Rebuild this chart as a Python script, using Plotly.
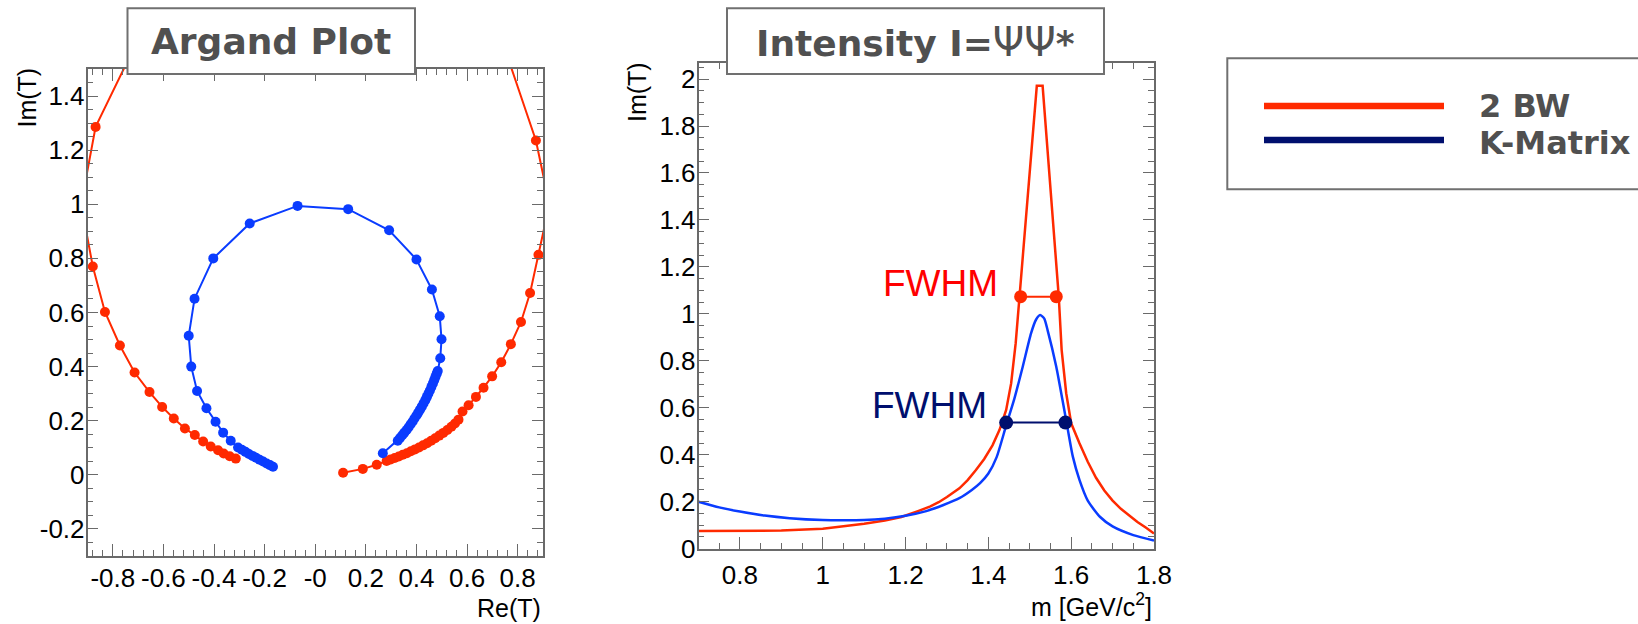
import plotly.graph_objects as go

# ---------------- data ----------------
# Argand plot: 2 BW (red)
bw_re = [0.110, 0.188, 0.243, 0.282, 0.298, 0.314, 0.330, 0.346, 0.362, 0.378, 0.394, 0.410,
         0.426, 0.442, 0.458, 0.474, 0.490, 0.506, 0.522, 0.538, 0.552, 0.566, 0.582, 0.606,
         0.635, 0.665, 0.699, 0.735, 0.773, 0.813, 0.849, 0.882, 0.925, 0.872, 0.740, 0.400,
         0.000, -0.400, -0.705, -0.868, -0.925, -0.879, -0.831, -0.772, -0.714, -0.655, -0.605,
         -0.559, -0.515, -0.476, -0.443, -0.413, -0.384, -0.362, -0.338, -0.314]
bw_im = [0.008, 0.022, 0.037, 0.051, 0.057, 0.062, 0.068, 0.074, 0.080, 0.087, 0.094, 0.101,
         0.109, 0.117, 0.126, 0.135, 0.145, 0.155, 0.166, 0.178, 0.190, 0.204, 0.234, 0.257,
         0.288, 0.322, 0.364, 0.416, 0.483, 0.565, 0.672, 0.813, 1.000, 1.236, 1.600, 1.850,
         1.900, 1.850, 1.600, 1.286, 1.000, 0.770, 0.602, 0.478, 0.378, 0.306, 0.251,
         0.208, 0.171, 0.147, 0.123, 0.105, 0.091, 0.079, 0.069, 0.060]
# Argand plot: K-Matrix (blue)
km_re = [0.267, 0.326, 0.335, 0.344, 0.352, 0.361, 0.369, 0.377, 0.385, 0.392, 0.400, 0.407,
         0.414, 0.421, 0.428, 0.435, 0.441, 0.447, 0.453, 0.459, 0.465, 0.470, 0.475, 0.480,
         0.484, 0.494, 0.499, 0.492, 0.461, 0.400, 0.292, 0.130, -0.070, -0.259, -0.403,
         -0.477, -0.500, -0.490, -0.467, -0.430, -0.394, -0.364, -0.334, -0.305, -0.290,
         -0.276, -0.262, -0.248, -0.234, -0.220, -0.206, -0.192, -0.179, -0.167]
km_im = [0.080, 0.126, 0.136, 0.146, 0.156, 0.166, 0.176, 0.187, 0.197, 0.208, 0.219, 0.230,
         0.241, 0.252, 0.264, 0.276, 0.288, 0.300, 0.312, 0.325, 0.338, 0.350, 0.362, 0.374,
         0.384, 0.431, 0.501, 0.586, 0.685, 0.796, 0.904, 0.982, 0.994, 0.929, 0.800,
         0.651, 0.514, 0.400, 0.310, 0.246, 0.196, 0.156, 0.126, 0.101, 0.093,
         0.085, 0.077, 0.070, 0.063, 0.056, 0.049, 0.042, 0.036, 0.030]

# Intensity plot
bw_m = [0.70, 0.80, 0.90, 1.00, 1.05, 1.10, 1.15, 1.19, 1.23, 1.26, 1.28, 1.30, 1.33, 1.35,
        1.37, 1.39, 1.41, 1.427, 1.443, 1.455, 1.466, 1.475, 1.517, 1.531, 1.570, 1.577,
        1.588, 1.600, 1.610, 1.620, 1.640, 1.660, 1.680, 1.700, 1.720, 1.740, 1.760, 1.780,
        1.800]
bw_I = [0.075, 0.075, 0.077, 0.085, 0.095, 0.106, 0.120, 0.135, 0.160, 0.180, 0.198, 0.220,
        0.257, 0.292, 0.335, 0.382, 0.440, 0.506, 0.591, 0.704, 0.875, 1.073, 1.971, 1.971,
        1.073, 0.846, 0.662, 0.534, 0.488, 0.449, 0.370, 0.302, 0.248, 0.205, 0.170, 0.140,
        0.114, 0.090, 0.065]
km_m = [0.70, 0.75, 0.80, 0.86, 0.92, 1.00, 1.05, 1.10, 1.15, 1.20, 1.25, 1.29, 1.33, 1.36,
        1.38, 1.40, 1.42, 1.443, 1.463, 1.483, 1.503, 1.515, 1.525, 1.535, 1.543, 1.564,
        1.579, 1.592, 1.604, 1.620, 1.640, 1.670, 1.700, 1.750, 1.800]
km_I = [0.200, 0.176, 0.158, 0.141, 0.130, 0.122, 0.121, 0.122, 0.128, 0.140, 0.160, 0.185,
        0.215, 0.250, 0.279, 0.320, 0.390, 0.525, 0.640, 0.775, 0.917, 0.975, 0.995, 0.980,
        0.931, 0.775, 0.633, 0.506, 0.392, 0.293, 0.205, 0.135, 0.095, 0.058, 0.035]

# FWHM markers
fwhm_bw_m = [1.478, 1.564]
fwhm_bw_I = [1.073, 1.073]
fwhm_km_m = [1.443, 1.586]
fwhm_km_I = [0.537, 0.537]

# tick labels
arg_xticks = [-0.8, -0.6, -0.4, -0.2, 0.0, 0.2, 0.4, 0.6, 0.8]
arg_xlabels = ["-0.8", "-0.6", "-0.4", "-0.2", "-0", "0.2", "0.4", "0.6", "0.8"]
arg_yticks = [-0.2, 0, 0.2, 0.4, 0.6, 0.8, 1.0, 1.2, 1.4]
arg_ylabels = ["-0.2", "0", "0.2", "0.4", "0.6", "0.8", "1", "1.2", "1.4"]
int_xticks = [0.8, 1.0, 1.2, 1.4, 1.6, 1.8]
int_xlabels = ["0.8", "1", "1.2", "1.4", "1.6", "1.8"]
int_yticks = [0, 0.2, 0.4, 0.6, 0.8, 1.0, 1.2, 1.4, 1.6, 1.8, 2.0]
int_ylabels = ["0", "0.2", "0.4", "0.6", "0.8", "1", "1.2", "1.4", "1.6", "1.8", "2"]

series_names = ["2 BW", "K-Matrix"]

# ---------------- style ----------------
W, H = 1638, 624
RED = "#ff2a00"
BLUE = "#0a3cff"
NAVY = "#000f6e"
FRAME = "#6a6a6a"
TXT = "#505050"
TICKFONT = dict(family="Liberation Sans, Arial", size=26, color="black")


def PX(x):
    return x / W


def PY(y):
    return 1 - y / H


fig = go.Figure()

fig.add_trace(go.Scatter(x=bw_re, y=bw_im, mode="lines+markers", name=series_names[0],
                         line=dict(color=RED, width=2), marker=dict(color=RED, size=10),
                         xaxis="x", yaxis="y", showlegend=False))
fig.add_trace(go.Scatter(x=km_re, y=km_im, mode="lines+markers", name=series_names[1],
                         line=dict(color=BLUE, width=2), marker=dict(color=BLUE, size=10),
                         xaxis="x", yaxis="y", showlegend=False))

fig.add_trace(go.Scatter(x=bw_m, y=bw_I, mode="lines", name=series_names[0],
                         line=dict(color=RED, width=2.5),
                         xaxis="x2", yaxis="y2", showlegend=False))
fig.add_trace(go.Scatter(x=km_m, y=km_I, mode="lines", name=series_names[1],
                         line=dict(color=BLUE, width=2.5, shape="spline", smoothing=0.6),
                         xaxis="x2", yaxis="y2", showlegend=False))
fig.add_trace(go.Scatter(x=fwhm_bw_m, y=fwhm_bw_I, mode="lines+markers",
                         line=dict(color=RED, width=2), marker=dict(color=RED, size=13),
                         xaxis="x2", yaxis="y2", showlegend=False))
fig.add_trace(go.Scatter(x=fwhm_km_m, y=fwhm_km_I, mode="lines+markers",
                         line=dict(color=NAVY, width=2), marker=dict(color=NAVY, size=14),
                         xaxis="x2", yaxis="y2", showlegend=False))

axis_common = dict(showgrid=False, zeroline=False, showline=True, linecolor=FRAME,
                   linewidth=1.5, mirror="ticks", ticks="inside", tickcolor=FRAME,
                   tickwidth=1.2, tickfont=TICKFONT, automargin=False)

fig.update_layout(
    template="none",
    width=W, height=H, margin=dict(l=0, r=0, t=0, b=0, pad=0, autoexpand=False),
    paper_bgcolor="white", plot_bgcolor="white",
    xaxis=dict(domain=[PX(87.5), PX(543)], range=[-0.9, 0.9], anchor="y",
               tickmode="array", tickvals=arg_xticks, ticktext=arg_xlabels, ticklen=12,
               ticklabelstandoff=-2,
               minor=dict(ticks="inside", ticklen=6, dtick=0.04, tick0=0, tickcolor=FRAME),
               **axis_common),
    yaxis=dict(domain=[PY(556), PY(69)], range=[-0.3, 1.5], anchor="x",
               tickmode="array", tickvals=arg_yticks, ticktext=arg_ylabels, ticklen=11,
               ticklabelstandoff=-4,
               minor=dict(ticks="inside", ticklen=6, dtick=0.05, tick0=0, tickcolor=FRAME),
               **axis_common),
    xaxis2=dict(domain=[PX(698.5), PX(1154)], range=[0.7, 1.8], anchor="y2",
                tickmode="array", tickvals=int_xticks, ticktext=int_xlabels, ticklen=12,
                ticklabelstandoff=2,
                minor=dict(ticks="inside", ticklen=6, dtick=0.05, tick0=0, tickcolor=FRAME),
                **axis_common),
    yaxis2=dict(domain=[PY(548.7), PY(63.3)], range=[0, 2.067], anchor="x2",
                tickmode="array", tickvals=int_yticks, ticktext=int_ylabels, ticklen=11,
                ticklabelstandoff=-4,
                minor=dict(ticks="inside", ticklen=6, dtick=0.05, tick0=0, tickcolor=FRAME),
                **axis_common),
)

shapes = []
# title boxes
shapes.append(dict(type="rect", xref="paper", yref="paper", x0=PX(127.5), x1=PX(415),
                   y0=PY(74), y1=PY(8.3), line=dict(color="#707070", width=2),
                   fillcolor="white", layer="above"))
shapes.append(dict(type="rect", xref="paper", yref="paper", x0=PX(727), x1=PX(1104),
                   y0=PY(74), y1=PY(8.3), line=dict(color="#707070", width=2),
                   fillcolor="white", layer="above"))
# legend box (its right side runs off the picture in the reference)
shapes.append(dict(type="path", xref="paper", yref="paper",
                   path="M %f,%f L %f,%f L %f,%f L %f,%f" % (
                       PX(1638), PY(58.3), PX(1227.3), PY(58.3),
                       PX(1227.3), PY(189.3), PX(1638), PY(189.3)),
                   line=dict(color="#707070", width=2), layer="above"))
shapes.append(dict(type="line", xref="paper", yref="paper", x0=PX(1264), x1=PX(1444),
                   y0=PY(106), y1=PY(106), line=dict(color=RED, width=6.5), layer="above"))
shapes.append(dict(type="line", xref="paper", yref="paper", x0=PX(1264), x1=PX(1444),
                   y0=PY(140), y1=PY(140), line=dict(color=NAVY, width=6.5), layer="above"))
fig.update_layout(shapes=shapes)

TITLEFONT = dict(family="DejaVu Sans", size=36, color=TXT)
LABFONT = dict(family="Liberation Sans, Arial", size=25, color="black")
LEGFONT = dict(family="DejaVu Sans", size=32, color=TXT)
ann = [
    dict(text="<b>Argand Plot</b>", x=PX(270.5), y=PY(42), xanchor="center", yanchor="middle",
         font=TITLEFONT),
    dict(text="<b>Intensity I=</b><span style='font-size:40px'>ΨΨ</span><b>*</b>",
         x=PX(915.5), y=PY(42), xanchor="center", yanchor="middle", font=TITLEFONT),
    dict(text="<b>" + series_names[0] + "</b>", x=PX(1477), y=PY(106), xanchor="left",
         yanchor="middle", font=LEGFONT),
    dict(text="<b>" + series_names[1] + "</b>", x=PX(1477), y=PY(143), xanchor="left",
         yanchor="middle", font=LEGFONT),
    dict(text="Im(T)", x=PX(26.5), y=PY(98), xanchor="center", yanchor="middle",
         textangle=-90, font=LABFONT),
    dict(text="Re(T)", x=PX(543), y=PY(608), xanchor="right", yanchor="middle", font=LABFONT),
    dict(text="Im(T)", x=PX(636.5), y=PY(92.5), xanchor="center", yanchor="middle",
         textangle=-90, font=LABFONT),
    dict(text="m [GeV/c<sup>2</sup>]", x=PX(1154), y=PY(605), xanchor="right",
         yanchor="middle", font=LABFONT),
    dict(text="FWHM", x=PX(941), y=PY(284), xanchor="center", yanchor="middle",
         font=dict(family="Liberation Sans, Arial", size=37, color="#ff0000")),
    dict(text="FWHM", x=PX(929), y=PY(405), xanchor="center", yanchor="middle",
         font=dict(family="Liberation Sans, Arial", size=37, color=NAVY)),
]
for a in ann:
    a.update(xref="paper", yref="paper", showarrow=False)
fig.update_layout(annotations=ann)

fig.write_html("out.html")
